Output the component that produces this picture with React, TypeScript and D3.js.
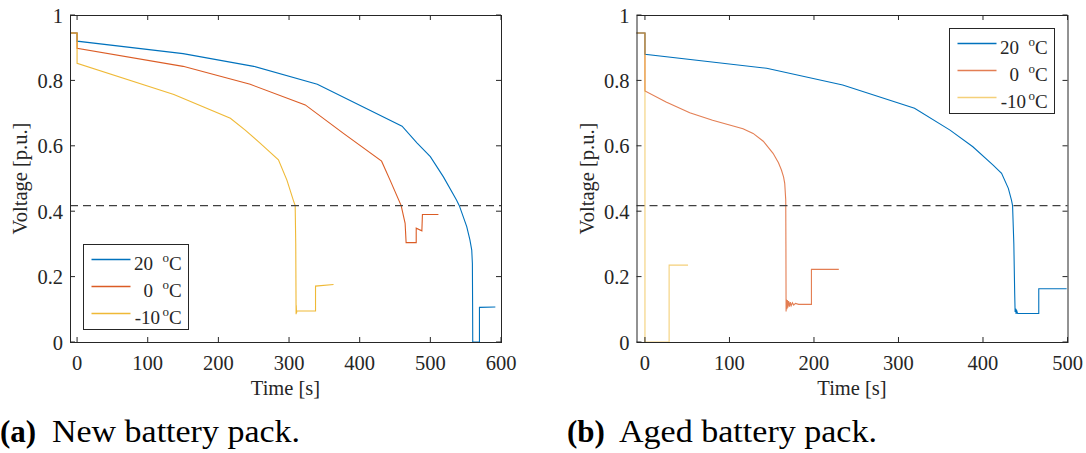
import React from "react";
import * as d3 from "d3";

type Pt = [number, number];

// ---- Data (time [s], voltage [p.u.]) ----
const new20: Pt[] = [[-10,0.945],[0,0.945],[0,0.92],[150,0.882],[250,0.843],[340,0.788],[460,0.66],[481,0.609],[500,0.567],[518.5,0.505],[537,0.434],[541,0.417],[551.5,0.353],[556,0.312],[558.6,0.281],[559.5,0.24],[559.8,0.12],[560,0],[569.5,0],[569.5,0.106],[592,0.107]];
const new0: Pt[] = [[-10,0.945],[0,0.945],[0,0.898],[150,0.843],[245,0.788],[323,0.725],[377,0.638],[431,0.553],[443,0.495],[458.7,0.417],[464.3,0.363],[465.7,0.304],[480,0.304],[480,0.348],[488,0.34],[488.8,0.39],[511.4,0.39]];
const newM10: Pt[] = [[-10,0.945],[0,0.945],[0,0.852],[137,0.757],[217,0.684],[238,0.648],[259,0.608],[285,0.557],[297,0.495],[306,0.434],[308.7,0.417],[309.5,0.3],[310,0.085],[310.2,0.112],[310.6,0.088],[311,0.095],[337.5,0.095],[337.5,0.171],[363,0.176]];

const aged20: Pt[] = [[-10,0.945],[0,0.945],[0,0.88],[144,0.837],[234,0.786],[319,0.715],[361,0.648],[388,0.597],[412,0.541],[422,0.516],[430,0.47],[433.7,0.434],[435,0.417],[436.5,0.3],[437.5,0.15],[438,0.092],[438.6,0.102],[439.2,0.086],[440,0.095],[441,0.087],[466,0.087],[466,0.163],[499,0.163]];
const aged0: Pt[] = [[-10,0.945],[0,0.945],[0,0.768],[25,0.734],[53,0.701],[80,0.678],[116,0.652],[128,0.638],[140,0.614],[151.6,0.577],[158,0.548],[161.5,0.526],[164,0.505],[165.4,0.485],[166.6,0.434],[166.8,0.3],[167,0.093],[167.5,0.13],[168,0.1],[168.5,0.128],[169,0.105],[170,0.125],[171,0.108],[172,0.122],[173,0.111],[174.5,0.12],[176,0.113],[178,0.118],[182,0.115],[197,0.115],[197,0.222],[229.4,0.222]];
const agedM10: Pt[] = [[-10,0.945],[0,0.945],[0,0],[28.6,0],[28.6,0.235],[51,0.235]];

const legendLabels = ["20", "0", "-10"];
const seriesColors = ["#0072BD", "#D95319", "#EDB120"];
const yTicks = [0, 0.2, 0.4, 0.6, 0.8, 1];
const xTicksNew = [0, 100, 200, 300, 400, 500, 600];
const xTicksAged = [0, 100, 200, 300, 400, 500];
const cutoff = 0.417;

const AX = "#262626";

interface PanelProps {
  left: number; right: number; top: number; bottom: number;
  xMax: number; xTicks: number[]; series: Pt[][]; opac: number[];
  legend: { x: number; y: number };
}

function Panel({ left, right, top, bottom, xMax, xTicks, series, opac, legend }: PanelProps) {
  const x = d3.scaleLinear().domain([-10, xMax]).range([left, right]);
  const y = d3.scaleLinear().domain([0, 1]).range([bottom, top]);
  const line = d3.line<Pt>().x(d => x(d[0])).y(d => y(d[1]));
  const tl = 5;
  const midX = (left + right) / 2;
  const midY = (top + bottom) / 2;
  return (
    <g>
      {series.map((s, i) => (
        <path key={i} d={line(s) || ""} fill="none" stroke={seriesColors[i]} strokeOpacity={opac[i]} strokeWidth={1.1} />
      ))}
      <line x1={left} x2={right} y1={y(cutoff)} y2={y(cutoff)} stroke="#404040" strokeWidth={1.2} strokeDasharray="8,5" />
      <rect x={left + 0.5} y={top + 0.5} width={right - left} height={bottom - top} fill="none" stroke={AX} strokeWidth={1} />
      {xTicks.map(t => (
        <g key={"x" + t}>
          <line x1={x(t)} x2={x(t)} y1={bottom} y2={bottom - tl} stroke={AX} />
          <line x1={x(t)} x2={x(t)} y1={top} y2={top + tl} stroke={AX} />
          <text x={x(t)} y={370} textAnchor="middle" fill={AX} fontSize={20.5}>{t}</text>
        </g>
      ))}
      {yTicks.map(t => (
        <g key={"y" + t}>
          <line x1={left} x2={left + tl} y1={y(t)} y2={y(t)} stroke={AX} />
          <line x1={right} x2={right - tl} y1={y(t)} y2={y(t)} stroke={AX} />
          <text x={left - 7} y={y(t) + 7.5} textAnchor="end" fill={AX} fontSize={20.5}>{t}</text>
        </g>
      ))}
      <text x={midX} y={395} textAnchor="middle" fill={AX} fontSize={20.5}>Time [s]</text>
      <text transform={`translate(${left - 43},${midY}) rotate(-90)`} textAnchor="middle" fill={AX} fontSize={20.5}>Voltage [p.u.]</text>
      <g transform={`translate(${legend.x},${legend.y})`}>
        <rect x={0.5} y={0.5} width={105} height={85} fill="#fff" stroke={AX} strokeWidth={1} />
        {legendLabels.map((lab, i) => {
          const ry = 15.5 + i * 27;
          const numEnd = lab.length > 2 ? 77 : 70;
          return (
            <g key={lab}>
              <line x1={8.5} x2={47.5} y1={ry} y2={ry} stroke={seriesColors[i]} strokeOpacity={opac[i]} strokeWidth={1.6} />
              <text x={numEnd} y={ry + 10} textAnchor="end" fill={AX} fontSize={19}>{lab}</text>
              <text x={79.5} y={ry + 2} fill={AX} fontSize={13}>o</text>
              <text x={86} y={ry + 10} fill={AX} fontSize={19}>C</text>
            </g>
          );
        })}
      </g>
    </g>
  );
}

export default function App() {
  return (
    <div style={{ position: "absolute", left: 0, top: 0, width: 1086, height: 453, fontFamily: '"Liberation Serif"' }}>
      <svg width={1086} height={453} fontFamily="Liberation Serif" style={{ display: "block", background: "#fff", fontFamily: '"Liberation Serif"' }}>
        <Panel left={70} right={501} top={15} bottom={342} xMax={600} xTicks={xTicksNew}
          series={[new20, new0, newM10]} opac={[1, 0.95, 0.9]} legend={{ x: 83, y: 244 }} />
        <Panel left={636.5} right={1067.5} top={15} bottom={342} xMax={500} xTicks={xTicksAged}
          series={[aged20, aged0, agedM10]} opac={[1, 0.75, 0.6]} legend={{ x: 949, y: 28 }} />
        <text x={0} y={442} fill="#000" fontSize={31} fontWeight="bold">(a)</text>
        <text x={52} y={442} fill="#000" fontSize={31} textLength={248} lengthAdjust="spacingAndGlyphs">New battery pack.</text>
        <text x={567} y={442} fill="#000" fontSize={31} fontWeight="bold">(b)</text>
        <text x={619} y={442} fill="#000" fontSize={31} textLength={258} lengthAdjust="spacingAndGlyphs">Aged battery pack.</text>
      </svg>
    </div>
  );
}
